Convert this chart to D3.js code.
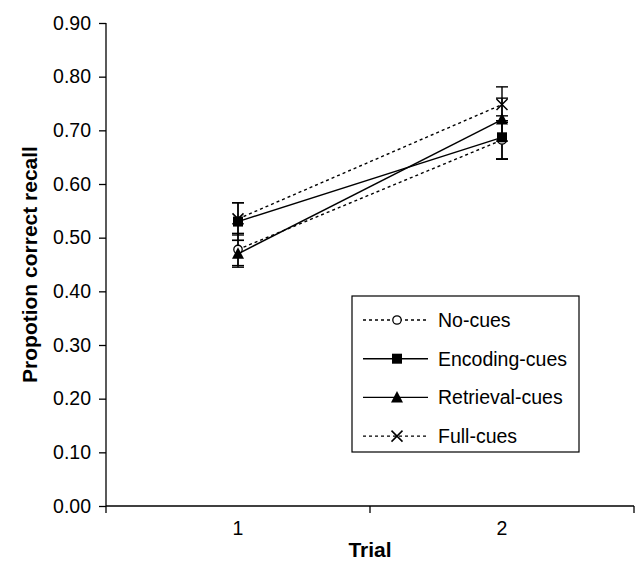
<!DOCTYPE html>
<html>
<head>
<meta charset="utf-8">
<script src="https://cdn.jsdelivr.net/npm/d3@7"></script>
<style>
  body { margin: 0; background: #fff; }
  svg text { font-family: "Liberation Sans", Arial, sans-serif; fill: #000; }
</style>
</head>
<body>
<div id="chart"></div>
<script>
// Data
const trials = ["1", "2"];
const seriesNames = ["No-cues", "Encoding-cues", "Retrieval-cues", "Full-cues"];
const noCues = [0.478, 0.682];
const noCuesErr = [0.030, 0.036];
const encodingCues = [0.530, 0.687];
const encodingCuesErr = [0.035, 0.040];
const retrievalCues = [0.470, 0.720];
const retrievalCuesErr = [0.025, 0.040];
const fullCues = [0.535, 0.748];
const fullCuesErr = [0.030, 0.033];
const yTicks = [0, 0.1, 0.2, 0.3, 0.4, 0.5, 0.6, 0.7, 0.8, 0.9];

function renderChart() {
  const width = 638, height = 562;
  const margin = { top: 23, right: 4, bottom: 56, left: 106 };

  const svg = d3.select("#chart").append("svg")
    .attr("width", width)
    .attr("height", height);

  const x = d3.scaleBand().domain(trials).range([margin.left, width - margin.right]).padding(0);
  const y = d3.scaleLinear().domain([0, 0.9]).range([height - margin.bottom, margin.top]);
  const cx = d => x(d) + x.bandwidth() / 2;

  // Y axis
  const yAxis = svg.append("g")
    .attr("transform", `translate(${margin.left},0)`)
    .call(d3.axisLeft(y).tickValues(yTicks).tickFormat(d3.format(".2f")).tickSize(7).tickPadding(8));
  yAxis.select(".domain").attr("d", `M0,${y(0.9)}V${y(0)}`).attr("stroke-width", 1.3);
  yAxis.selectAll("text").style("font-size", "19.5px");
  yAxis.selectAll(".tick line").attr("stroke-width", 1.3);

  // X axis: tick marks on category boundaries, labels in the middle
  const xAxis = svg.append("g").attr("transform", `translate(0,${y(0)})`);
  xAxis.append("line")
    .attr("x1", x.range()[0]).attr("x2", x.range()[1])
    .attr("stroke", "#000").attr("stroke-width", 1.3);
  const bounds = trials.map(d => x(d)).concat([x.range()[1]]);
  xAxis.selectAll(".bt").data(bounds).join("line")
    .attr("x1", d => d).attr("x2", d => d)
    .attr("y1", 0).attr("y2", 7)
    .attr("stroke", "#000").attr("stroke-width", 1.3);
  xAxis.selectAll(".lbl").data(trials).join("text")
    .attr("x", d => cx(d)).attr("y", 29)
    .attr("text-anchor", "middle")
    .style("font-size", "19.5px")
    .text(d => d);

  // Axis titles
  svg.append("text")
    .attr("x", (x.range()[0] + x.range()[1]) / 2)
    .attr("y", 557)
    .attr("text-anchor", "middle")
    .style("font-size", "21px").style("font-weight", "bold")
    .text("Trial");
  svg.append("text")
    .attr("transform", `translate(37,${(y(0) + y(0.9)) / 2}) rotate(-90)`)
    .attr("text-anchor", "middle")
    .style("font-size", "21px").style("font-weight", "bold")
    .text("Propotion correct recall");

  const series = [
    { name: seriesNames[0], values: noCues, err: noCuesErr, dash: "3,3", marker: "circle" },
    { name: seriesNames[1], values: encodingCues, err: encodingCuesErr, dash: null, marker: "square" },
    { name: seriesNames[2], values: retrievalCues, err: retrievalCuesErr, dash: null, marker: "triangle" },
    { name: seriesNames[3], values: fullCues, err: fullCuesErr, dash: "3,3", marker: "cross" }
  ];

  const line = d3.line().x(d => cx(d.t)).y(d => y(d.v));

  function drawMarker(g, type) {
    if (type === "circle") {
      g.append("circle").attr("r", 4.2).attr("fill", "#fff").attr("stroke", "#000").attr("stroke-width", 1.3);
    } else if (type === "square") {
      g.append("rect").attr("x", -5).attr("y", -5).attr("width", 10).attr("height", 10).attr("fill", "#000");
    } else if (type === "triangle") {
      g.append("path").attr("d", "M0,-6.5L6,5L-6,5Z").attr("fill", "#000");
    } else {
      g.append("path").attr("d", "M-5.5,-5.5L5.5,5.5M-5.5,5.5L5.5,-5.5").attr("stroke", "#000").attr("stroke-width", 1.5);
    }
  }

  // Error bars
  series.forEach(s => {
    const pts = trials.map((t, i) => ({ t, v: s.values[i], e: s.err[i] }));
    const eg = svg.append("g");
    pts.forEach(p => {
      const xx = cx(p.t);
      eg.append("line").attr("x1", xx).attr("x2", xx)
        .attr("y1", y(p.v - p.e)).attr("y2", y(p.v + p.e))
        .attr("stroke", "#000").attr("stroke-width", 1.4);
      [p.v - p.e, p.v + p.e].forEach(v => {
        eg.append("line").attr("x1", xx - 6).attr("x2", xx + 6)
          .attr("y1", y(v)).attr("y2", y(v))
          .attr("stroke", "#000").attr("stroke-width", 1.4);
      });
    });
  });

  // Lines and markers
  series.forEach(s => {
    const pts = trials.map((t, i) => ({ t, v: s.values[i] }));
    svg.append("path").datum(pts)
      .attr("d", line)
      .attr("fill", "none").attr("stroke", "#000").attr("stroke-width", 1.4)
      .attr("stroke-dasharray", s.dash);
    pts.forEach(p => {
      const g = svg.append("g").attr("transform", `translate(${cx(p.t)},${y(p.v)})`);
      drawMarker(g, s.marker);
    });
  });

  // Legend
  const legend = svg.append("g").attr("transform", "translate(352,296)");
  legend.append("rect")
    .attr("width", 227).attr("height", 156)
    .attr("fill", "#fff").attr("stroke", "#000").attr("stroke-width", 1.2);
  series.forEach((s, i) => {
    const ly = 24 + i * 38.7;
    legend.append("line")
      .attr("x1", 11).attr("x2", 76).attr("y1", ly).attr("y2", ly)
      .attr("stroke", "#000").attr("stroke-width", 1.4)
      .attr("stroke-dasharray", s.dash);
    drawMarker(legend.append("g").attr("transform", `translate(45,${ly})`), s.marker);
    legend.append("text")
      .attr("x", 86).attr("y", ly + 7)
      .style("font-size", "19.5px")
      .text(s.name);
  });
}

renderChart();
</script>
</body>
</html>
